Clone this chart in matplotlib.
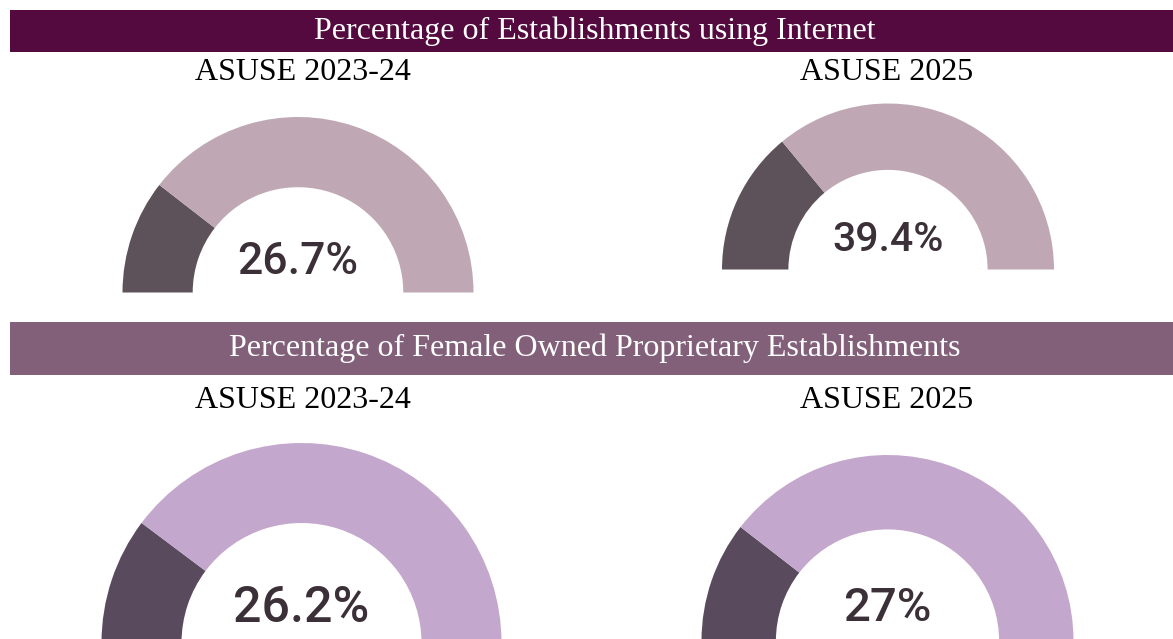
import matplotlib.pyplot as plt
from matplotlib.patches import Wedge, Rectangle

# section headers and gauge titles
sections = ["Percentage of Establishments using Internet",
            "Percentage of Female Owned Proprietary Establishments"]
rounds = ["ASUSE 2023-24", "ASUSE 2025"]

# value printed in each gauge
labels = ["26.7%", "39.4%", "26.2%", "27%"]
# share of the half dial drawn dark
arc_share = [0.21, 0.28, 0.205, 0.21]

header_colors = ["#540a3e", "#83607a"]
dark_colors = ["#5d5259", "#5d5259", "#594b5d", "#594b5d"]
light_colors = ["#bfa8b4", "#bfa8b4", "#c4a7cc", "#c4a7cc"]
text_color = "#3b3038"

W, H = 1173, 639
fig = plt.figure(figsize=(W / 100, H / 100), dpi=100)
ax = fig.add_axes([0, 0, 1, 1])
ax.set_xlim(0, W)
ax.set_ylim(0, H)
ax.axis("off")

serif = "Liberation Serif"

# header bands (pixel layout, y from top)
bands = [(10, 52), (322, 375)]
for (top, bot), txt, col in zip(bands, sections, header_colors):
    ax.add_patch(Rectangle((10, H - bot), W - 10, bot - top, color=col, lw=0))
    ax.text(W / 2 + 8, H - (top + bot) / 2, txt, color="white", fontsize=23,
            family=serif, ha="center", va="center")

# gauge titles
title_x = [303, 887]
for ty in [73, 401]:
    for x, t in zip(title_x, rounds):
        ax.text(x, H - ty, t, fontsize=23, family=serif, ha="center",
                va="center", color="black")

# gauges: centre x, centre y (from top), outer radius, label y (from top), size
gauges = [(298, 292.5, 175.5, 262, 32),
          (888, 269.5, 166, 240, 29.5),
          (301.5, 643, 200, 608, 36),
          (887.5, 641, 186, 608, 34)]
for i, (cx, cy, r, ly, fs) in enumerate(gauges):
    split = 180 - arc_share[i] * 180
    ax.add_patch(Wedge((cx, H - cy), r, split, 180, width=0.4 * r,
                       facecolor=dark_colors[i], edgecolor="none"))
    ax.add_patch(Wedge((cx, H - cy), r, 0, split, width=0.4 * r,
                       facecolor=light_colors[i], edgecolor="none"))
    ax.text(cx, H - ly, labels[i], fontsize=fs, family="Roboto",
            fontweight="medium", ha="center", va="center", color=text_color)

fig.savefig("out.png", dpi=100)
